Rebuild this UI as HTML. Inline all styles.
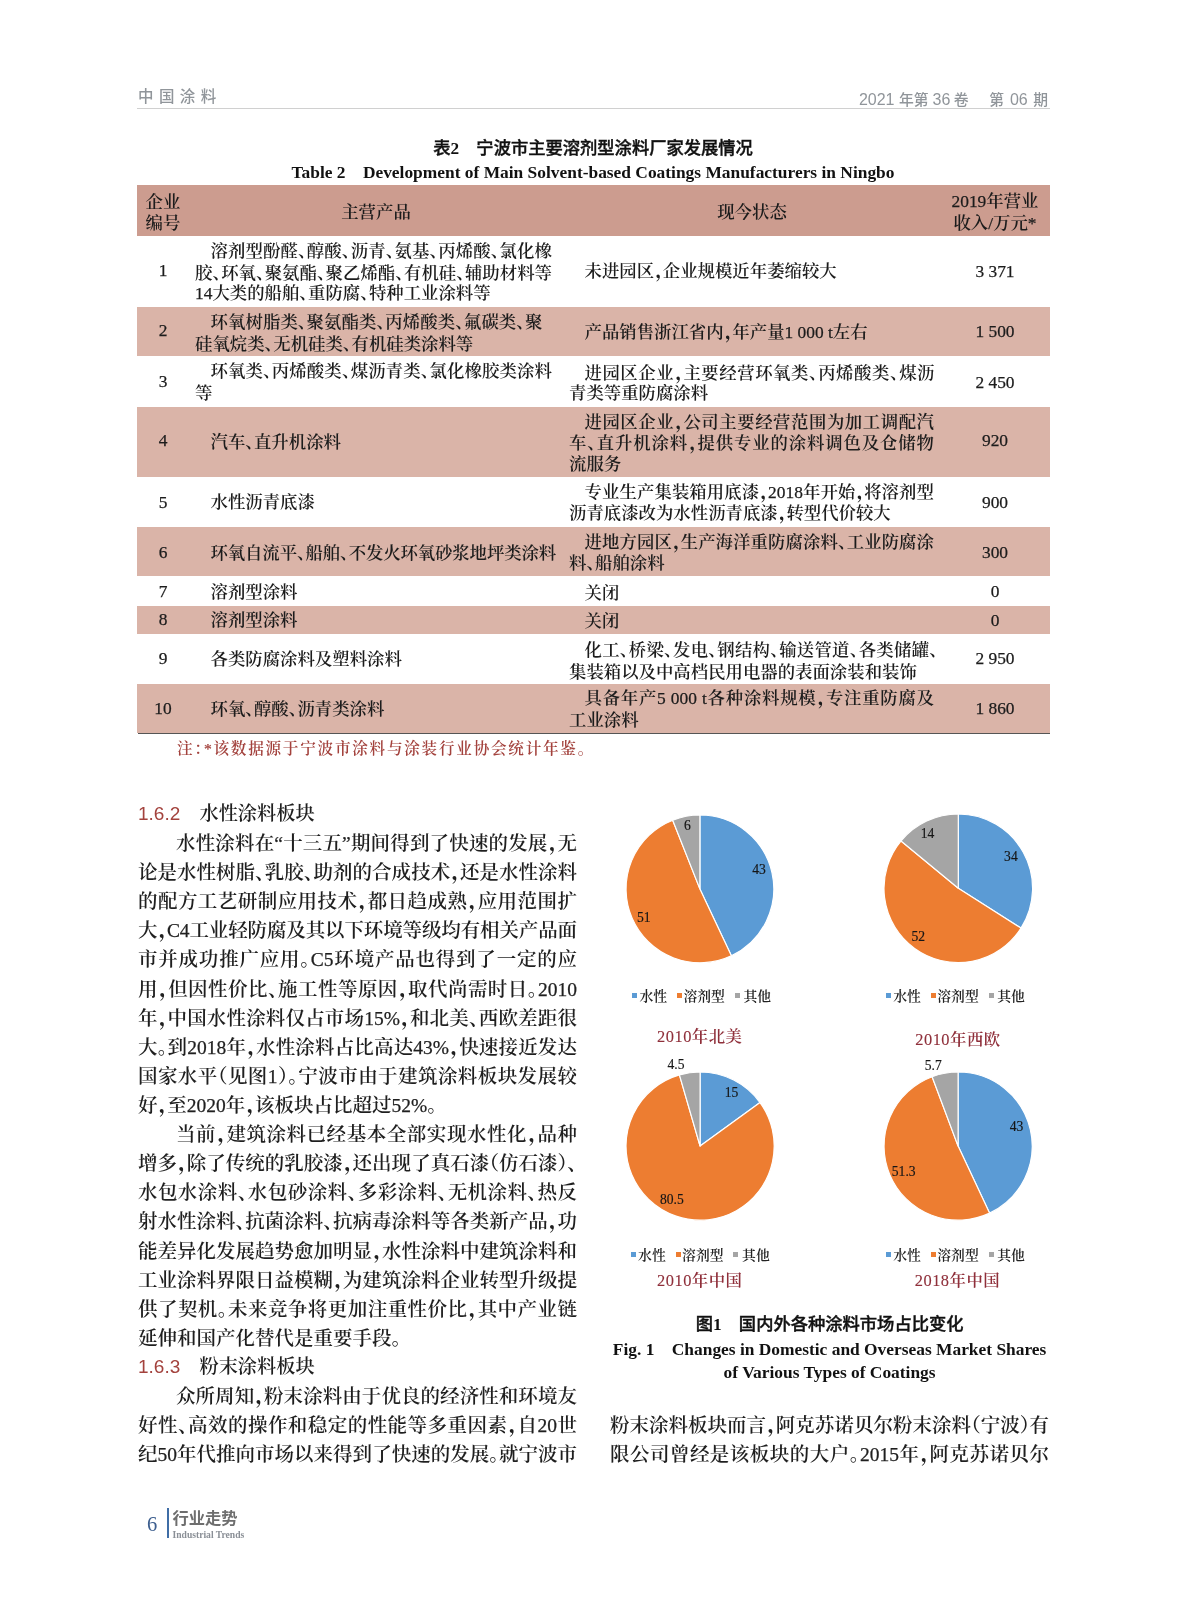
<!DOCTYPE html>
<html lang="zh-CN"><head><meta charset="utf-8"><title>中国涂料 2021年第36卷 第06期</title>
<style>
html,body{margin:0;padding:0;background:#fff;}
body{width:1187px;height:1600px;position:relative;overflow:hidden;
 font-family:"Liberation Serif","Noto Serif CJK SC",serif;color:#1c1c1c;
 font-feature-settings:"halt";will-change:transform;}
.a{position:absolute;white-space:nowrap;}
.j{text-align:justify;text-align-last:justify;}
.c{text-align:center;}
.r{text-align:right;}
.t{font-size:17.4px;line-height:22px;height:22px;font-weight:600;}          /* table text */
.b{font-size:19.5px;line-height:28px;height:28px;color:#1f1f1f;font-weight:600;} /* body text */
.cm{font-weight:900;position:relative;left:1.6px;}
.n{font-weight:400;-webkit-text-stroke:0.25px currentColor;}
.band{position:absolute;left:137.3px;width:913.2px;}
.hd{background:#cc9c8f;}
.st{background:#dab4a8;}
.sans{font-family:"Liberation Sans","Noto Sans CJK SC",sans-serif;}
.cap{font-weight:bold;color:#111;}
.capz{font-weight:500;color:#111;-webkit-text-stroke:0.4px #111;}
.red{color:#a3423d;}
.lg{font-size:13.8px;font-weight:600;line-height:18px;height:18px;color:#222;}
.sq{position:absolute;width:5px;height:5px;}
.pt{font-size:16.4px;line-height:22px;height:22px;color:#8f2f3a;letter-spacing:0.5px;font-weight:600;}
.pt .n{-webkit-text-stroke:0.12px currentColor;}
</style></head><body>
<!-- page header -->
<div class="a sans" style="left:138px;top:87.2px;font-size:15.5px;line-height:20px;letter-spacing:5.4px;color:#90959a;font-weight:500;">中国涂料</div>
<div class="a sans r" style="left:748px;top:90px;width:300px;font-size:14.8px;line-height:20px;color:#90959a;font-weight:500;"><span style="font-size:16px">2021</span><i style="display:inline-block;width:4.4px"></i>年第<i style="display:inline-block;width:4.1px"></i><span style="font-size:16px">36</span><i style="display:inline-block;width:3.4px"></i>卷<i style="display:inline-block;width:20.7px"></i>第<i style="display:inline-block;width:5.8px"></i><span style="font-size:16px">06</span><i style="display:inline-block;width:5.5px"></i>期</div>
<div style="position:absolute;left:137px;top:107.6px;width:913px;height:1px;background:#d0d0d0"></div>
<!-- table caption -->
<div class="a sans capz c" style="left:293px;top:136.3px;width:600px;font-size:17.3px;line-height:24px;">表<span style="font-family:'Liberation Serif',serif;font-weight:bold;-webkit-text-stroke:0">2</span>　宁波市主要溶剂型涂料厂家发展情况</div>
<div class="a cap c" style="left:273px;top:160px;width:640px;font-size:17.4px;line-height:24px;">Table 2　Development of Main Solvent-based Coatings Manufacturers in Ningbo</div>
<!-- table 2 -->
<div class="band hd" style="top:185.3px;height:50.7px"></div>
<div class="band st" style="top:307px;height:49.3px"></div>
<div class="band st" style="top:406.7px;height:70.3px"></div>
<div class="band st" style="top:527.4px;height:49.1px"></div>
<div class="band st" style="top:605.8px;height:27.9px"></div>
<div class="band st" style="top:683.6px;height:49.4px"></div>
<div style="position:absolute;left:138px;top:733px;width:912px;height:1.3px;background:#555"></div>
<div class="a t c" style="left:133px;top:191px;width:60px;">企业</div>
<div class="a t c" style="left:133px;top:212.3px;width:60px;">编号</div>
<div class="a t c" style="left:316px;top:200.6px;width:120px;">主营产品</div>
<div class="a t c" style="left:692px;top:200.8px;width:120px;">现今状态</div>
<div class="a t c" style="left:940px;top:189.7px;width:110px;"><span class="n">2019</span>年营业</div>
<div class="a t c" style="left:940px;top:212.2px;width:110px;">收入<span class="n">/</span>万元<span class="n">*</span></div>
<div class="a t c" style="left:133px;top:258.7px;width:60px;"><span class="n">1</span></div>
<div class="a t j" style="left:210.5px;top:239.7px;width:341.5px;">溶剂型酚醛、醇酸、沥青、氨基、丙烯酸、氯化橡</div>
<div class="a t j" style="left:195px;top:261.8px;width:357px;">胶、环氧、聚氨酯、聚乙烯酯、有机硅、辅助材料等</div>
<div class="a t" style="left:195px;top:281.7px;"><span class="n">14</span>大类的船舶、重防腐、特种工业涂料等</div>
<div class="a t" style="left:584.5px;top:260px;">未进园区<span class="cm">，</span>企业规模近年萎缩较大</div>
<div class="a t c" style="left:940px;top:259.5px;width:110px;"><span class="n">3 371</span></div>
<div class="a t c" style="left:133px;top:319.2px;width:60px;"><span class="n">2</span></div>
<div class="a t j" style="left:210.5px;top:311.2px;width:332px;">环氧树脂类、聚氨酯类、丙烯酸类、氟碳类、聚</div>
<div class="a t" style="left:195px;top:332.8px;">硅氧烷类、无机硅类、有机硅类涂料等</div>
<div class="a t" style="left:584.5px;top:320.5px;">产品销售浙江省内<span class="cm">，</span>年产量<span class="n">1 000 t</span>左右</div>
<div class="a t c" style="left:940px;top:319.7px;width:110px;"><span class="n">1 500</span></div>
<div class="a t c" style="left:133px;top:370px;width:60px;"><span class="n">3</span></div>
<div class="a t j" style="left:210.5px;top:359.5px;width:341.5px;">环氧类、丙烯酸类、煤沥青类、氯化橡胶类涂料</div>
<div class="a t" style="left:195px;top:382.2px;">等</div>
<div class="a t j" style="left:584.5px;top:361.5px;width:350px;">进园区企业<span class="cm">，</span>主要经营环氧类、丙烯酸类、煤沥</div>
<div class="a t" style="left:569px;top:382.2px;">青类等重防腐涂料</div>
<div class="a t c" style="left:940px;top:371px;width:110px;"><span class="n">2 450</span></div>
<div class="a t c" style="left:133px;top:429.3px;width:60px;"><span class="n">4</span></div>
<div class="a t" style="left:210.5px;top:430.5px;">汽车、直升机涂料</div>
<div class="a t j" style="left:584.5px;top:411px;width:349.5px;">进园区企业<span class="cm">，</span>公司主要经营范围为加工调配汽</div>
<div class="a t j" style="left:569px;top:431.8px;width:365px;">车、直升机涂料<span class="cm">，</span>提供专业的涂料调色及仓储物</div>
<div class="a t" style="left:569px;top:453.2px;">流服务</div>
<div class="a t c" style="left:940px;top:429.3px;width:110px;"><span class="n">920</span></div>
<div class="a t c" style="left:133px;top:490.5px;width:60px;"><span class="n">5</span></div>
<div class="a t" style="left:210.5px;top:491px;">水性沥青底漆</div>
<div class="a t j" style="left:584.5px;top:481.2px;width:349.5px;">专业生产集装箱用底漆<span class="cm">，</span><span class="n">2018</span>年开始<span class="cm">，</span>将溶剂型</div>
<div class="a t" style="left:569px;top:502.3px;">沥青底漆改为水性沥青底漆<span class="cm">，</span>转型代价较大</div>
<div class="a t c" style="left:940px;top:490.5px;width:110px;"><span class="n">900</span></div>
<div class="a t c" style="left:133px;top:541px;width:60px;"><span class="n">6</span></div>
<div class="a t j" style="left:210.5px;top:541.7px;width:345.5px;letter-spacing:-0.13px;">环氧自流平、船舶、不发火环氧砂浆地坪类涂料</div>
<div class="a t j" style="left:584.5px;top:531.3px;width:349.5px;">进地方园区<span class="cm">，</span>生产海洋重防腐涂料、工业防腐涂</div>
<div class="a t" style="left:569px;top:552.3px;">料、船舶涂料</div>
<div class="a t c" style="left:940px;top:541px;width:110px;"><span class="n">300</span></div>
<div class="a t c" style="left:133px;top:580px;width:60px;"><span class="n">7</span></div>
<div class="a t" style="left:210.5px;top:581px;">溶剂型涂料</div>
<div class="a t" style="left:584.5px;top:581.7px;">关闭</div>
<div class="a t c" style="left:940px;top:580px;width:110px;"><span class="n">0</span></div>
<div class="a t c" style="left:133px;top:607.7px;width:60px;"><span class="n">8</span></div>
<div class="a t" style="left:210.5px;top:608.5px;">溶剂型涂料</div>
<div class="a t" style="left:584.5px;top:609.7px;">关闭</div>
<div class="a t c" style="left:940px;top:608.5px;width:110px;"><span class="n">0</span></div>
<div class="a t c" style="left:133px;top:646.5px;width:60px;"><span class="n">9</span></div>
<div class="a t" style="left:210.5px;top:647.7px;">各类防腐涂料及塑料涂料</div>
<div class="a t j" style="left:584.5px;top:638.5px;width:353.5px;">化工、桥梁、发电、钢结构、输送管道、各类储罐、</div>
<div class="a t" style="left:569px;top:660.5px;">集装箱以及中高档民用电器的表面涂装和装饰</div>
<div class="a t c" style="left:940px;top:646.5px;width:110px;"><span class="n">2 950</span></div>
<div class="a t c" style="left:133px;top:697px;width:60px;"><span class="n">10</span></div>
<div class="a t" style="left:210.5px;top:698.2px;">环氧、醇酸、沥青类涂料</div>
<div class="a t j" style="left:584.5px;top:686.8px;width:349.5px;">具备年产<span class="n">5 000 t</span>各种涂料规模<span class="cm">，</span>专注重防腐及</div>
<div class="a t" style="left:569px;top:708.5px;">工业涂料</div>
<div class="a t c" style="left:940px;top:697px;width:110px;"><span class="n">1 860</span></div>
<div class="a j red" style="left:177px;top:738.5px;width:408.5px;font-size:15.6px;line-height:20px;font-weight:600;">注：<span class="n">*</span>该数据源于宁波市涂料与涂装行业协会统计年鉴。</div>
<!-- body text -->
<div class="a sans red" style="left:138px;top:800.1px;font-size:19px;line-height:28px;">1.6.2</div>
<div class="a b" style="left:199.5px;top:800.1px;font-size:19.2px;">水性涂料板块</div>
<div class="a b j" style="left:176px;top:830px;width:401px;">水性涂料在<span class="n">“</span>十三五<span class="n">”</span>期间得到了快速的发展<span class="cm">，</span>无</div>
<div class="a b j" style="left:138px;top:859.1px;width:439px;">论是水性树脂、乳胶、助剂的合成技术<span class="cm">，</span>还是水性涂料</div>
<div class="a b j" style="left:138px;top:888.2px;width:439px;">的配方工艺研制应用技术<span class="cm">，</span>都日趋成熟<span class="cm">，</span>应用范围扩</div>
<div class="a b j" style="left:138px;top:917.3px;width:439px;letter-spacing:-0.15px;">大<span class="cm">，</span><span class="n">C4</span>工业轻防腐及其以下环境等级均有相关产品面</div>
<div class="a b j" style="left:138px;top:946.4px;width:439px;">市并成功推广应用。<span class="n">C5</span>环境产品也得到了一定的应</div>
<div class="a b j" style="left:138px;top:975.6px;width:439px;">用<span class="cm">，</span>但因性价比、施工性等原因<span class="cm">，</span>取代尚需时日。<span class="n">2010</span></div>
<div class="a b j" style="left:138px;top:1004.7px;width:439px;">年<span class="cm">，</span>中国水性涂料仅占市场<span class="n">15%</span><span class="cm">，</span>和北美、西欧差距很</div>
<div class="a b j" style="left:138px;top:1033.8px;width:439px;">大。到<span class="n">2018</span>年<span class="cm">，</span>水性涂料占比高达<span class="n">43%</span><span class="cm">，</span>快速接近发达</div>
<div class="a b j" style="left:138px;top:1062.9px;width:439px;">国家水平（见图<span class="n">1</span>）。宁波市由于建筑涂料板块发展较</div>
<div class="a b" style="left:138px;top:1092px;">好<span class="cm">，</span>至<span class="n">2020</span>年<span class="cm">，</span>该板块占比超过<span class="n">52%</span>。</div>
<div class="a b j" style="left:176px;top:1121.1px;width:401px;">当前<span class="cm">，</span>建筑涂料已经基本全部实现水性化<span class="cm">，</span>品种</div>
<div class="a b j" style="left:138px;top:1150.2px;width:439px;">增多<span class="cm">，</span>除了传统的乳胶漆<span class="cm">，</span>还出现了真石漆（仿石漆）、</div>
<div class="a b j" style="left:138px;top:1179.3px;width:439px;">水包水涂料、水包砂涂料、多彩涂料、无机涂料、热反</div>
<div class="a b j" style="left:138px;top:1208.4px;width:439px;">射水性涂料、抗菌涂料、抗病毒涂料等各类新产品<span class="cm">，</span>功</div>
<div class="a b j" style="left:138px;top:1237.6px;width:439px;">能差异化发展趋势愈加明显<span class="cm">，</span>水性涂料中建筑涂料和</div>
<div class="a b j" style="left:138px;top:1266.7px;width:439px;">工业涂料界限日益模糊<span class="cm">，</span>为建筑涂料企业转型升级提</div>
<div class="a b j" style="left:138px;top:1295.8px;width:439px;">供了契机。未来竞争将更加注重性价比<span class="cm">，</span>其中产业链</div>
<div class="a b" style="left:138px;top:1324.9px;">延伸和国产化替代是重要手段。</div>
<div class="a sans red" style="left:138px;top:1353.2px;font-size:19px;line-height:28px;">1.6.3</div>
<div class="a b" style="left:199.5px;top:1353.2px;font-size:19.2px;">粉末涂料板块</div>
<div class="a b j" style="left:176px;top:1383.1px;width:401px;">众所周知<span class="cm">，</span>粉末涂料由于优良的经济性和环境友</div>
<div class="a b j" style="left:138px;top:1412.2px;width:439px;">好性、高效的操作和稳定的性能等多重因素<span class="cm">，</span>自<span class="n">20</span>世</div>
<div class="a b j" style="left:138px;top:1441.3px;width:439px;">纪<span class="n">50</span>年代推向市场以来得到了快速的发展。就宁波市</div>
<div class="a b j" style="left:610px;top:1412.2px;width:439px;">粉末涂料板块而言<span class="cm">，</span>阿克苏诺贝尔粉末涂料（宁波）有</div>
<div class="a b j" style="left:610px;top:1441.3px;width:439px;">限公司曾经是该板块的大户。<span class="n">2015</span>年<span class="cm">，</span>阿克苏诺贝尔</div>
<!-- figure 1 : pie charts -->
<svg class="a" style="left:605.7px;top:794.6px" width="187.8" height="187.8" viewBox="605.7 794.6 187.8 187.8">
<path d="M699.60 888.50 L699.60 814.60 A73.9 73.9 0 0 1 731.07 955.37 Z" fill="#5b9bd5" stroke="#fff" stroke-width="1.2" stroke-linejoin="round"/>
<path d="M699.60 888.50 L731.07 955.37 A73.9 73.9 0 1 1 672.40 819.79 Z" fill="#ed7d31" stroke="#fff" stroke-width="1.2" stroke-linejoin="round"/>
<path d="M699.60 888.50 L672.40 819.79 A73.9 73.9 0 0 1 699.60 814.60 Z" fill="#a5a5a5" stroke="#fff" stroke-width="1.2" stroke-linejoin="round"/>
<text transform="translate(758.8 874.1) scale(0.92 1)" text-anchor="middle" font-family="Liberation Serif, serif" font-size="14.8" fill="#161616" stroke="#161616" stroke-width="0.18">43</text>
<text transform="translate(643.5 922.1) scale(0.92 1)" text-anchor="middle" font-family="Liberation Serif, serif" font-size="14.8" fill="#161616" stroke="#161616" stroke-width="0.18">51</text>
<text transform="translate(687.2 829.6) scale(0.92 1)" text-anchor="middle" font-family="Liberation Serif, serif" font-size="14.8" fill="#161616" stroke="#161616" stroke-width="0.18">6</text>
</svg>
<svg class="a" style="left:863.8px;top:794.2px" width="188.6" height="188.6" viewBox="863.8 794.2 188.6 188.6">
<path d="M958.10 888.50 L958.10 814.20 A74.3 74.3 0 0 1 1020.83 928.31 Z" fill="#5b9bd5" stroke="#fff" stroke-width="1.2" stroke-linejoin="round"/>
<path d="M958.10 888.50 L1020.83 928.31 A74.3 74.3 0 1 1 900.85 841.14 Z" fill="#ed7d31" stroke="#fff" stroke-width="1.2" stroke-linejoin="round"/>
<path d="M958.10 888.50 L900.85 841.14 A74.3 74.3 0 0 1 958.10 814.20 Z" fill="#a5a5a5" stroke="#fff" stroke-width="1.2" stroke-linejoin="round"/>
<text transform="translate(1010.7 861.1) scale(0.92 1)" text-anchor="middle" font-family="Liberation Serif, serif" font-size="14.8" fill="#161616" stroke="#161616" stroke-width="0.18">34</text>
<text transform="translate(918 941.6) scale(0.92 1)" text-anchor="middle" font-family="Liberation Serif, serif" font-size="14.8" fill="#161616" stroke="#161616" stroke-width="0.18">52</text>
<text transform="translate(927.3 838.1) scale(0.92 1)" text-anchor="middle" font-family="Liberation Serif, serif" font-size="14.8" fill="#161616" stroke="#161616" stroke-width="0.18">14</text>
</svg>
<svg class="a" style="left:605.8px;top:1052.3px" width="188.2" height="188.2" viewBox="605.8 1052.3 188.2 188.2">
<path d="M699.90 1146.40 L699.90 1072.30 A74.1 74.1 0 0 1 759.85 1102.85 Z" fill="#5b9bd5" stroke="#fff" stroke-width="1.2" stroke-linejoin="round"/>
<path d="M699.90 1146.40 L759.85 1102.85 A74.1 74.1 0 1 1 679.23 1075.24 Z" fill="#ed7d31" stroke="#fff" stroke-width="1.2" stroke-linejoin="round"/>
<path d="M699.90 1146.40 L679.23 1075.24 A74.1 74.1 0 0 1 699.90 1072.30 Z" fill="#a5a5a5" stroke="#fff" stroke-width="1.2" stroke-linejoin="round"/>
<text transform="translate(731.4 1097.8) scale(0.92 1)" text-anchor="middle" font-family="Liberation Serif, serif" font-size="14.8" fill="#161616" stroke="#161616" stroke-width="0.18">15</text>
<text transform="translate(671.6 1204.1) scale(0.92 1)" text-anchor="middle" font-family="Liberation Serif, serif" font-size="14.8" fill="#161616" stroke="#161616" stroke-width="0.18">80.5</text>
<text transform="translate(675.8 1069.1) scale(0.92 1)" text-anchor="middle" font-family="Liberation Serif, serif" font-size="14.8" fill="#161616" stroke="#161616" stroke-width="0.18">4.5</text>
</svg>
<svg class="a" style="left:863.6px;top:1052.3px" width="188.2" height="188.2" viewBox="863.6 1052.3 188.2 188.2">
<path d="M957.70 1146.40 L957.70 1072.30 A74.1 74.1 0 0 1 989.25 1213.45 Z" fill="#5b9bd5" stroke="#fff" stroke-width="1.2" stroke-linejoin="round"/>
<path d="M957.70 1146.40 L989.25 1213.45 A74.1 74.1 0 1 1 931.73 1077.00 Z" fill="#ed7d31" stroke="#fff" stroke-width="1.2" stroke-linejoin="round"/>
<path d="M957.70 1146.40 L931.73 1077.00 A74.1 74.1 0 0 1 957.70 1072.30 Z" fill="#a5a5a5" stroke="#fff" stroke-width="1.2" stroke-linejoin="round"/>
<text transform="translate(1016.2 1131.5) scale(0.92 1)" text-anchor="middle" font-family="Liberation Serif, serif" font-size="14.8" fill="#161616" stroke="#161616" stroke-width="0.18">43</text>
<text transform="translate(903.3 1176.5) scale(0.92 1)" text-anchor="middle" font-family="Liberation Serif, serif" font-size="14.8" fill="#161616" stroke="#161616" stroke-width="0.18">51.3</text>
<text transform="translate(932.8 1070.4) scale(0.92 1)" text-anchor="middle" font-family="Liberation Serif, serif" font-size="14.8" fill="#161616" stroke="#161616" stroke-width="0.18">5.7</text>
</svg>
<div class="sq" style="left:632px;top:993.1px;background:#5b9bd5"></div>
<div class="a lg" style="left:639.5px;top:987.5px;">水性</div>
<div class="sq" style="left:677px;top:993.1px;background:#ed7d31"></div>
<div class="a lg" style="left:683.5px;top:987.5px;">溶剂型</div>
<div class="sq" style="left:734.7px;top:993.1px;background:#a5a5a5"></div>
<div class="a lg" style="left:743.5px;top:987.5px;">其他</div>
<div class="sq" style="left:885.8px;top:993.4px;background:#5b9bd5"></div>
<div class="a lg" style="left:893.3px;top:987.8px;">水性</div>
<div class="sq" style="left:930.8px;top:993.4px;background:#ed7d31"></div>
<div class="a lg" style="left:937.3px;top:987.8px;">溶剂型</div>
<div class="sq" style="left:988.5px;top:993.4px;background:#a5a5a5"></div>
<div class="a lg" style="left:997.3px;top:987.8px;">其他</div>
<div class="sq" style="left:630.6px;top:1251.7px;background:#5b9bd5"></div>
<div class="a lg" style="left:638.1px;top:1247px;">水性</div>
<div class="sq" style="left:675.6px;top:1251.7px;background:#ed7d31"></div>
<div class="a lg" style="left:682.1px;top:1247px;">溶剂型</div>
<div class="sq" style="left:733.3px;top:1251.7px;background:#a5a5a5"></div>
<div class="a lg" style="left:742.1px;top:1247px;">其他</div>
<div class="sq" style="left:885.8px;top:1251.7px;background:#5b9bd5"></div>
<div class="a lg" style="left:893.3px;top:1247px;">水性</div>
<div class="sq" style="left:930.8px;top:1251.7px;background:#ed7d31"></div>
<div class="a lg" style="left:937.3px;top:1247px;">溶剂型</div>
<div class="sq" style="left:988.5px;top:1251.7px;background:#a5a5a5"></div>
<div class="a lg" style="left:997.3px;top:1247px;">其他</div>
<div class="a pt c" style="left:629.8px;top:1026.3px;width:140px;"><span class="n">2010</span>年北美</div>
<div class="a pt c" style="left:888px;top:1029.1px;width:140px;"><span class="n">2010</span>年西欧</div>
<div class="a pt c" style="left:629.8px;top:1269.9px;width:140px;"><span class="n">2010</span>年中国</div>
<div class="a pt c" style="left:887.5px;top:1269.9px;width:140px;"><span class="n">2018</span>年中国</div>
<!-- figure caption -->
<div class="a sans capz c" style="left:529.6px;top:1312.2px;width:600px;font-size:17.3px;line-height:24px;">图<span style="font-family:'Liberation Serif',serif;font-weight:bold;-webkit-text-stroke:0">1</span>　国内外各种涂料市场占比变化</div>
<div class="a cap c" style="left:529.6px;top:1336.6px;width:600px;font-size:17.4px;line-height:24px;">Fig. 1　Changes in Domestic and Overseas Market Shares</div>
<div class="a cap c" style="left:529.6px;top:1359.5px;width:600px;font-size:17.4px;line-height:24px;">of Various Types of Coatings</div>
<!-- footer -->
<div class="a " style="left:147px;top:1511px;font-size:20.5px;line-height:26px;color:#3d5f8f;">6</div>
<div style="position:absolute;left:166.5px;top:1508px;width:2px;height:30px;background:#3f6da6"></div>
<div class="a sans" style="left:172.5px;top:1507.5px;font-size:16.3px;line-height:20px;font-weight:bold;color:#6e6e6e;">行业走势</div>
<div class="a " style="left:172.5px;top:1528.5px;font-size:9.6px;line-height:12px;font-weight:bold;color:#8a8f96;">Industrial Trends</div>
</body></html>
